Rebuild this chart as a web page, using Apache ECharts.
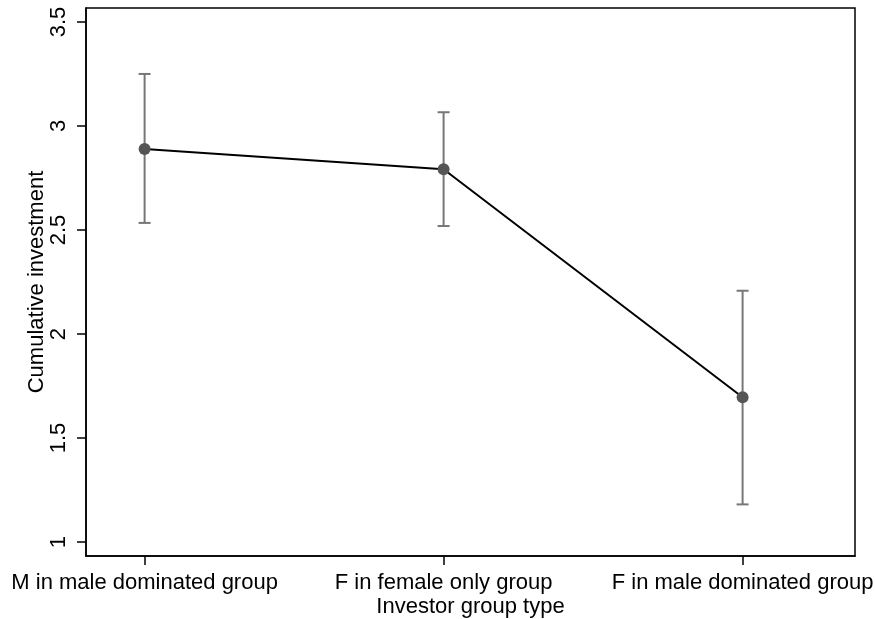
<!DOCTYPE html>
<html>
<head>
<meta charset="utf-8">
<script src="https://cdn.jsdelivr.net/npm/echarts@6/dist/echarts.min.js"></script>
<style>html,body{margin:0;padding:0;background:#fff}#c{width:875px;height:619px}</style>
</head>
<body>
<div id="c"></div>
<script>
var categories = ['M in male dominated group', 'F in female only group', 'F in male dominated group'];
var positions = [1, 2, 3];
var means = [2.889, 2.792, 1.696];
var lower = [2.534, 2.519, 1.181];
var upper = [3.250, 3.066, 2.208];
var yTicks = [1, 1.5, 2, 2.5, 3, 3.5];

var FONT = 'Liberation Sans, Arial, sans-serif';
var chart = echarts.init(document.getElementById('c'));

var lineData = positions.map(function (p, i) { return [p, means[i]]; });
var errData = positions.map(function (p, i) { return [p, lower[i], upper[i]]; });

chart.setOption({
  animation: false,
  grid: { left: 86, top: 8, right: 20, bottom: 63, outerBoundsMode: 'none', containLabel: false,
    show: true, borderColor: '#000', borderWidth: 1.5, backgroundColor: '#fff' },
  xAxis: {
    type: 'value', min: 0.804, max: 3.376,
    name: 'Investor group type', nameLocation: 'middle', nameGap: 40, nameMoveOverlap: false,
    nameTextStyle: { fontFamily: FONT, fontSize: 22, color: '#000' },
    axisLine: { show: true, lineStyle: { color: '#000', width: 1.5 } },
    axisTick: { show: true, length: 9, lineStyle: { color: '#000', width: 1.5 }, customValues: positions },
    axisLabel: { customValues: positions, margin: 16, fontFamily: FONT, fontSize: 22, color: '#000',
      hideOverlap: false,
      formatter: function (v) { var i = positions.indexOf(Math.round(v)); return i >= 0 ? categories[i] : ''; } },
    splitLine: { show: false }
  },
  yAxis: {
    type: 'value', min: 0.933, max: 3.567,
    name: 'Cumulative investment', nameLocation: 'middle', nameGap: 38, nameRotate: 90, nameMoveOverlap: false,
    nameTextStyle: { fontFamily: FONT, fontSize: 22, color: '#000' },
    axisLine: { show: true, lineStyle: { color: '#000', width: 1.5 } },
    axisTick: { show: true, length: 9, lineStyle: { color: '#000', width: 1.5 }, customValues: yTicks },
    axisLabel: { customValues: yTicks, rotate: 90, margin: 16, fontFamily: FONT, fontSize: 22, color: '#000',
      formatter: function (v) { return String(Math.round(v * 10) / 10); } },
    splitLine: { show: false }
  },
  series: [
    {
      type: 'custom', z: 2,
      data: errData,
      renderItem: function (params, api) {
        var x = api.value(0);
        var lo = api.coord([x, api.value(1)]);
        var hi = api.coord([x, api.value(2)]);
        var cap = 6;
        var style = { stroke: '#777', lineWidth: 2 };
        return { type: 'group', children: [
          { type: 'line', shape: { x1: lo[0], y1: lo[1], x2: hi[0], y2: hi[1] }, style: style },
          { type: 'line', shape: { x1: lo[0] - cap, y1: lo[1], x2: lo[0] + cap, y2: lo[1] }, style: style },
          { type: 'line', shape: { x1: hi[0] - cap, y1: hi[1], x2: hi[0] + cap, y2: hi[1] }, style: style }
        ] };
      }
    },
    {
      type: 'line', z: 3,
      data: lineData,
      symbol: 'circle', symbolSize: 12,
      itemStyle: { color: '#555' },
      lineStyle: { color: '#000', width: 2 }
    }
  ]
});
</script>
</body>
</html>
